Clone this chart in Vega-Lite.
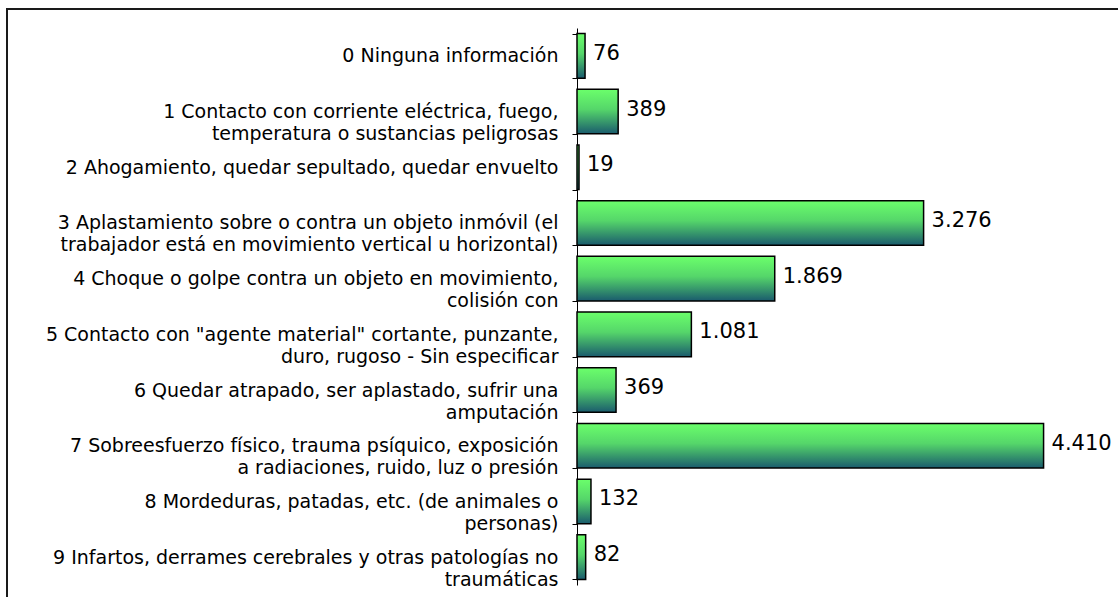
{
  "$schema": "https://vega.github.io/schema/vega-lite/v6.json",
  "autosize": "none",
  "padding": {"left": 7, "top": 9, "right": 0, "bottom": 0},
  "width": 1120,
  "height": 600,
  "background": "white",
  "config": {
    "view": {"stroke": "#1a1a1a", "strokeWidth": 2},
    "locale": {"number": {"decimal": ",", "thousands": ".", "grouping": [3], "currency": ["", " €"]}}
  },
  "data": {
    "values": [
      {"cat": "0 Ninguna información", "n": 76},
      {"cat": "1 Contacto con corriente eléctrica, fuego,|temperatura o sustancias peligrosas", "n": 389},
      {"cat": "2 Ahogamiento, quedar sepultado, quedar envuelto", "n": 19},
      {"cat": "3 Aplastamiento sobre o contra un objeto inmóvil (el|trabajador está en movimiento vertical u horizontal)", "n": 3276},
      {"cat": "4 Choque o golpe contra un objeto en movimiento,|colisión con", "n": 1869},
      {"cat": "5 Contacto con \"agente material\" cortante, punzante,|duro, rugoso - Sin especificar", "n": 1081},
      {"cat": "6 Quedar atrapado, ser aplastado, sufrir una|amputación", "n": 369},
      {"cat": "7 Sobreesfuerzo físico, trauma psíquico, exposición|a radiaciones, ruido, luz o presión", "n": 4410},
      {"cat": "8 Mordeduras, patadas, etc. (de animales o|personas)", "n": 132},
      {"cat": "9 Infartos, derrames cerebrales y otras patologías no|traumáticas", "n": 82}
    ]
  },
  "encoding": {
    "y": {
      "field": "cat",
      "type": "nominal",
      "sort": "ascending",
      "scale": {"range": [19, 576], "paddingInner": 0.2, "paddingOuter": 0.1},
      "axis": {
        "title": null,
        "offset": -570,
        "domain": true,
        "domainColor": "#000000",
        "domainWidth": 1,
        "ticks": true,
        "tickColor": "#000000",
        "tickSize": 5,
        "tickWidth": 1,
        "tickBand": "extent",
        "labelExpr": "split(datum.label, '|')",
        "labelFont": "DejaVu Sans",
        "labelFontSize": 19,
        "labelColor": "#000000",
        "labelLineHeight": 22,
        "labelPadding": 14,
        "labelLimit": 0,
        "labelBaseline": "middle"
      }
    },
    "x": {
      "field": "n",
      "type": "quantitative",
      "scale": {"domain": [0, 5000], "range": [570, 1099], "nice": false},
      "axis": null
    }
  },
  "layer": [
    {
      "mark": {
        "type": "bar",
        "stroke": "#000000",
        "strokeWidth": 1.5,
        "color": {
          "gradient": "linear",
          "x1": 0, "y1": 0, "x2": 0, "y2": 1,
          "stops": [
            {"offset": 0, "color": "#6bff6b"},
            {"offset": 0.45, "color": "#55d66a"},
            {"offset": 1, "color": "#1a5b6d"}
          ]
        }
      }
    },
    {
      "mark": {
        "type": "text",
        "align": "left",
        "baseline": "middle",
        "dx": 8,
        "dy": -2,
        "font": "DejaVu Sans",
        "fontSize": 21,
        "color": "#000000"
      },
      "encoding": {
        "text": {"field": "n", "type": "quantitative", "format": ","}
      }
    }
  ]
}
